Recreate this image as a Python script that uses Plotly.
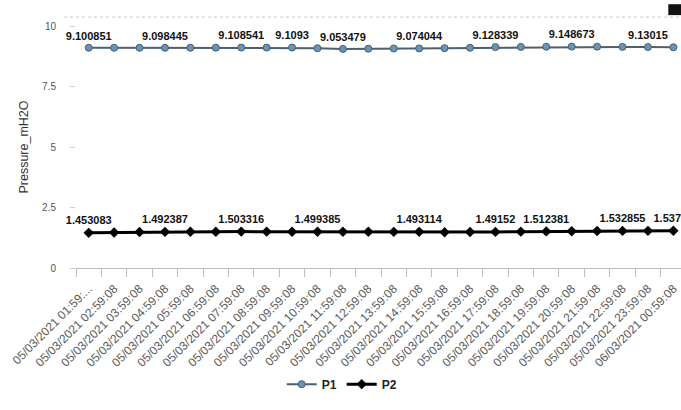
import plotly.graph_objects as go

# Hourly timestamps (category axis)
timestamps = [
    "05/03/2021 01:59:...",
    "05/03/2021 02:59:08", "05/03/2021 03:59:08", "05/03/2021 04:59:08",
    "05/03/2021 05:59:08", "05/03/2021 06:59:08", "05/03/2021 07:59:08",
    "05/03/2021 08:59:08", "05/03/2021 09:59:08", "05/03/2021 10:59:08",
    "05/03/2021 11:59:08", "05/03/2021 12:59:08", "05/03/2021 13:59:08",
    "05/03/2021 14:59:08", "05/03/2021 15:59:08", "05/03/2021 16:59:08",
    "05/03/2021 17:59:08", "05/03/2021 18:59:08", "05/03/2021 19:59:08",
    "05/03/2021 20:59:08", "05/03/2021 21:59:08", "05/03/2021 22:59:08",
    "05/03/2021 23:59:08", "06/03/2021 00:59:08",
]

# Pressure readings, mH2O
p1 = [9.100851, 9.101, 9.099, 9.098445, 9.101, 9.104, 9.108541, 9.107,
      9.1093, 9.082, 9.053479, 9.061, 9.07, 9.074044, 9.085, 9.1,
      9.128339, 9.135, 9.142, 9.148673, 9.145, 9.137, 9.13015, 9.121]
p2 = [1.453083, 1.468, 1.485, 1.492387, 1.497, 1.501, 1.503316, 1.502,
      1.5, 1.499385, 1.497, 1.495, 1.494, 1.493114, 1.475, 1.487,
      1.49152, 1.503, 1.512381, 1.52, 1.528, 1.532855, 1.535, 1.53706]

# Points that carry a value label
p1_labelled = [0, 3, 6, 8, 10, 13, 16, 19, 22]
p2_labelled = [0, 3, 6, 9, 13, 16, 18, 21, 23]

y_ticks = [0, 2.5, 5, 7.5, 10]
y_tick_text = ["0", "2.5", "5", "7.5", "10"]


def labels(values, idx):
    return [str(v) if i in idx else "" for i, v in enumerate(values)]


label_font = dict(family="Liberation Sans, Arial, sans-serif", size=11,
                  color="#111111", weight="bold")

fig = go.Figure()
fig.add_trace(go.Scatter(
    x=timestamps, y=p1, name="P1", mode="lines+markers+text",
    text=labels(p1, p1_labelled), textposition="top center",
    textfont=label_font,
    line=dict(color="#4f5f6c", width=2),
    marker=dict(symbol="circle", size=7, color="#6d93b3",
                line=dict(color="#3f5f7a", width=1)),
    cliponaxis=False,
))
fig.add_trace(go.Scatter(
    x=timestamps, y=p2, name="P2", mode="lines+markers+text",
    text=labels(p2, p2_labelled), textposition="top center",
    textfont=label_font,
    line=dict(color="#000000", width=3),
    marker=dict(symbol="diamond", size=8, color="#000000"),
    cliponaxis=False,
))

# Faint dotted rule along the top and a small dark tab in the corner
fig.add_shape(type="line", xref="paper", yref="paper",
              x0=-0.02, x1=1.0, y0=1.037, y1=1.037,
              line=dict(color="#c8c8c8", width=1, dash="dot"))
fig.add_shape(type="rect", xref="paper", yref="paper",
              x0=0.979, x1=1.0, y0=1.045, y1=1.09,
              fillcolor="#111111", line=dict(width=0))

fig.update_layout(
    width=681, height=410,
    margin=dict(l=76, r=0, t=26, b=142),
    paper_bgcolor="white", plot_bgcolor="white",
    font=dict(family="Liberation Sans, Arial, sans-serif", color="#444444"),
    showlegend=True,
    legend=dict(orientation="h", x=0.44, xanchor="center", y=-0.48,
                yanchor="middle",
                font=dict(size=12, color="#222222", weight="bold")),
)
fig.update_xaxes(
    type="category", range=[-0.5, 23.3],
    showgrid=False, showline=True, linecolor="#bdbdbd", linewidth=1,
    ticks="outside", tickson="boundaries", ticklen=8, tickcolor="#bdbdbd",
    tickangle=-45, tickfont=dict(size=12, color="#5a5a5a"),
    ticklabelstandoff=8,
)
fig.update_yaxes(
    range=[0, 10], tickvals=y_ticks, ticktext=y_tick_text,
    showgrid=False, zeroline=False, showline=False,
    ticks="outside", ticklen=5, tickcolor="#cfcfcf",
    tickfont=dict(size=10, color="#555555"), ticklabelstandoff=12,
    title=dict(text="Pressure_mH2O", font=dict(size=12.5, color="#333333"),
               standoff=10),
)

fig.write_html("out.html")
